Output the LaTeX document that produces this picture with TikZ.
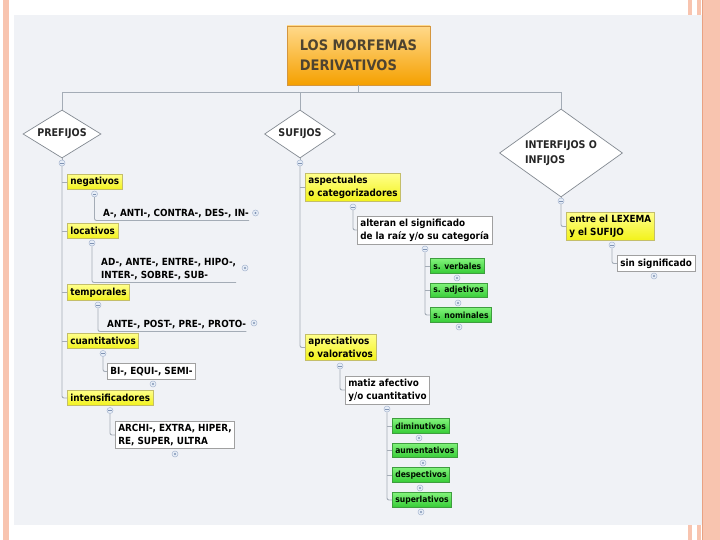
\documentclass[tikz,border=0pt]{standalone}
\usepackage{fontspec}
\setmainfont{DejaVu Sans}[FakeStretch=0.9]
\usetikzlibrary{shapes.geometric,calc}
\definecolor{salmon}{HTML}{F8C4AF}
\definecolor{salmondark}{HTML}{E9A283}
\definecolor{panel}{HTML}{F0F2F6}
\definecolor{lnc}{HTML}{A4ACB6}
\definecolor{ytop}{HTML}{FFFF8A}
\definecolor{ybot}{HTML}{F2F21A}
\definecolor{ybord}{HTML}{C4BE6A}
\definecolor{gtop}{HTML}{80F27A}
\definecolor{gbot}{HTML}{36CC36}
\definecolor{gbord}{HTML}{3E9E3E}
\definecolor{wbord}{HTML}{A0A0A0}
\definecolor{otop}{HTML}{FFD98A}
\definecolor{obot}{HTML}{F5A000}
\definecolor{obord}{HTML}{D4963E}
\definecolor{otext}{HTML}{4E4330}
\definecolor{cfill}{HTML}{E6EDF7}
\definecolor{cdraw}{HTML}{A9B8D0}
\definecolor{cmark}{HTML}{7F93B3}
\tikzset{
  conn/.style={draw=lnc, line width=0.9, rounded corners=2},
  box/.style={anchor=west, font=\fontsize{9.8}{13.3}\selectfont\bfseries, align=left,
    inner xsep=3, inner ysep=2.4, minimum height=15.5, text=black, line width=0.6},
  ybox/.style={box, draw=ybord, top color=ytop, bottom color=ybot},
  gbox/.style={box, draw=gbord, top color=gtop, bottom color=gbot,
    font=\fontsize{8.5}{12}\selectfont\bfseries, text=black!85!green!40!black, minimum height=14.5},
  wbox/.style={box, draw=wbord, fill=white},
  ubox/.style={anchor=south west, font=\fontsize{9.8}{13.3}\selectfont\bfseries, align=left,
    inner xsep=0, inner ysep=2.5, text=black},
  dia/.style={diamond, draw=lnc!80!black, fill=white, line width=0.7, inner sep=0,
    font=\fontsize{10.6}{15}\selectfont\bfseries, text=black!85, align=left},
  mc/.style={circle, draw=cdraw, fill=cfill, inner sep=0, minimum size=6, line width=0.5,
    path picture={\draw[cmark, line width=0.5]
      ([xshift=-1.7pt]path picture bounding box.center) -- ([xshift=1.7pt]path picture bounding box.center);}},
  pc/.style={circle, draw=cdraw, fill=cfill, inner sep=0, minimum size=6, line width=0.5,
    path picture={\fill[cmark] (path picture bounding box.center) circle (1.1pt);}},
}
\begin{document}
\begin{tikzpicture}[x=1pt,y=-1pt]
\useasboundingbox (0,0) rectangle (720,540);
% slide background
\fill[white] (0,0) rectangle (720,540);
\fill[salmon] (3,0) rectangle (9,540);
\fill[salmon] (688,0) rectangle (692,540);
\fill[salmon] (697,0) rectangle (701,540);
\fill[salmon] (702,0) rectangle (720,540);
\draw[salmondark, line width=1] (702.5,0) -- (702.5,540);
\fill[panel] (14,15) rectangle (702,525);

% root
\node[draw=obord, top color=otop, bottom color=obot, line width=0.7,
  minimum width=143, minimum height=59, align=left, inner sep=0,
  font=\fontsize{14.5}{20}\selectfont\bfseries, text=otext] (root) at (358.5,55.5)
  {LOS MORFEMAS\\DERIVATIVOS};
\coordinate (bar) at (300,92);

% diamonds
\node[dia, shape aspect=1.6, minimum width=78, minimum height=48] (pref) at (62,134) {PREFIJOS};
\node[dia, shape aspect=1.6, minimum width=71, minimum height=48] (suf) at (300,134) {SUFIJOS};
\node[dia, shape aspect=1.4, minimum width=123, minimum height=88] (inter) at (561,153) {INTERFIJOS O\\INFIJOS};

\draw[conn] (root.south) -- (root.south |- bar);
\draw[conn, rounded corners=0] (pref.north) -- (pref.north |- bar) -| (inter.north);
\draw[conn] (suf.north) -- (suf.north |- bar);

% collapse circles of diamonds
\node[mc] (cP) at (62,163) {};
\node[mc] (cS) at (300,163) {};
\node[mc] (cI) at (561,201) {};
\draw[conn] (pref.south) -- (cP);
\draw[conn] (suf.south) -- (cS);
\draw[conn] (inter.south) -- (cI);

% ===== PREFIJOS =====
\node[ybox] (negat) at (67,182) {negativos};
\node[ybox] (locat) at (67,231) {locativos};
\node[ybox] (tempo) at (67,292.5) {temporales};
\node[ybox] (cuant) at (67,341) {cuantitativos};
\node[ybox] (inten) at (67,398) {intensificadores};
\draw[conn] (cP) |- (inten.west);
\foreach \n in {negat,locat,tempo,cuant}{\draw[conn] (\n.west) -- (\n.west -| cP);}

\node[ubox] (anti) at (103,220.5) {A-, ANTI-, CONTRA-, DES-, IN-};
\node[ubox] (adan) at (101,282.5) {AD-, ANTE-, ENTRE-, HIPO-,\\INTER-, SOBRE-, SUB-};
\node[ubox] (ante) at (107,331.5) {ANTE-, POST-, PRE-, PROTO-};
\node[wbox] (biequ) at (107,371.5) {BI-, EQUI-, SEMI-};
\node[wbox] (archi) at (115,435) {ARCHI-, EXTRA, HIPER,\\RE, SUPER, ULTRA};

\node[mc] (cNeg) at (94.5,194) {};
\node[mc] (cLoc) at (92,243) {};
\node[mc] (cTem) at (98,305) {};
\node[mc] (cCua) at (103,353.5) {};
\node[mc] (cInt) at (110,410.5) {};
\draw[conn] (cNeg) |- (anti.south east);
\draw[conn] (cLoc) |- (adan.south east);
\draw[conn] (cTem) |- (ante.south east);
\draw[conn] (cCua) |- (biequ.west);
\draw[conn] (cInt) |- (archi.west);

\node[pc] (pAnti) at (255.5,213) {};
\node[pc] (pAdan) at (245,268) {};
\node[pc] (pAnte) at (254,323) {};
\node[pc] (pBi) at (153,384) {};
\node[pc] (pArchi) at (175,454) {};

% ===== SUFIJOS =====
\node[ybox] (aspe) at (305,187.5) {aspectuales\\o categorizadores};
\node[ybox] (apre) at (305,347.5) {apreciativos\\o valorativos};
\draw[conn] (cS) |- (apre.west);
\draw[conn] (aspe.west) -- (aspe.west -| cS);

\node[wbox] (alte) at (357,230) {alteran el significado\\de la raíz y/o su categoría};
\node[mc] (cAsp) at (353,207) {};
\draw[conn] (cAsp) |- (alte.west);

\node[gbox] (sverb) at (430,266) {s. verbales};
\node[gbox] (sadj) at (430,290.5) {s. adjetivos};
\node[gbox] (snom) at (430,315) {s. nominales};
\node[mc] (cAlt) at (425,249) {};
\draw[conn] (cAlt) |- (snom.west);
\draw[conn] (sverb.west) -- (sverb.west -| cAlt);
\draw[conn] (sadj.west) -- (sadj.west -| cAlt);
\node[pc] (pSv) at (457,278) {};
\node[pc] (pSa) at (458,303) {};
\node[pc] (pSn) at (459,327) {};

\node[wbox] (mati) at (345,390) {matiz afectivo\\y/o cuantitativo};
\node[mc] (cApr) at (340,366) {};
\draw[conn] (cApr) |- (mati.west);

\node[gbox] (dimi) at (392,426) {diminutivos};
\node[gbox] (aume) at (392,450.5) {aumentativos};
\node[gbox] (desp) at (392,475) {despectivos};
\node[gbox] (supe) at (392,500) {superlativos};
\node[mc] (cMat) at (387,409) {};
\draw[conn] (cMat) |- (supe.west);
\foreach \n in {dimi,aume,desp}{\draw[conn] (\n.west) -- (\n.west -| cMat);}
\node[pc] (pDi) at (419,438) {};
\node[pc] (pAu) at (423,463) {};
\node[pc] (pDe) at (420,488) {};
\node[pc] (pSu) at (421,512) {};

% ===== INTERFIJOS =====
\node[ybox] (entre) at (566,226.5) {entre el LEXEMA\\y el SUFIJO};
\draw[conn] (cI) |- (entre.west);
\node[wbox] (sins) at (617,263.5) {sin significado};
\node[mc] (cEnt) at (612,245) {};
\draw[conn] (cEnt) |- (sins.west);
\node[pc] (pSin) at (654,276) {};
\end{tikzpicture}
\end{document}
